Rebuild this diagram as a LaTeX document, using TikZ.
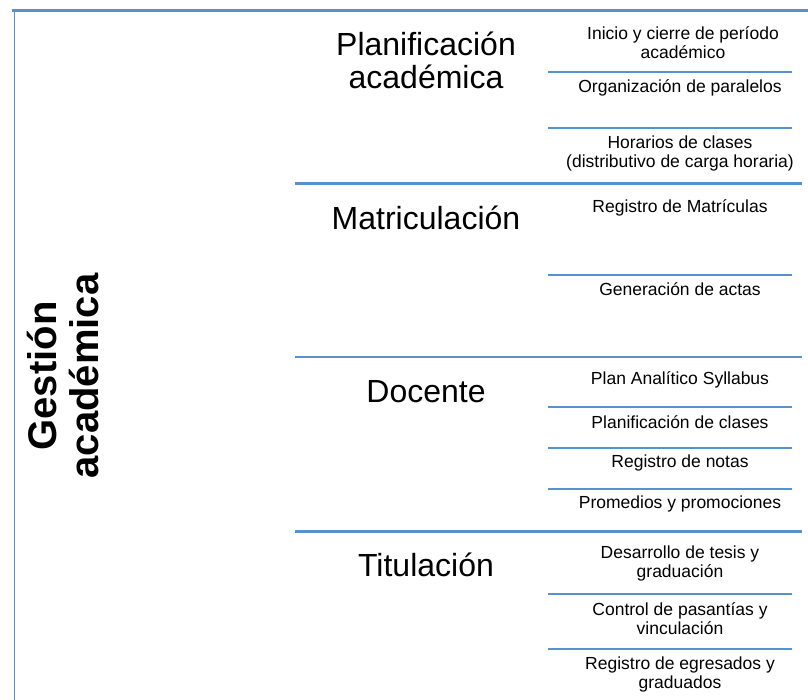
\documentclass[tikz,border=0pt]{standalone}
\usepackage{fontspec}
\setmainfont{Liberation Sans}
\definecolor{azulraya}{RGB}{88,146,206}
\tikzset{
  titulo/.style={align=center, inner sep=0pt, font=\fontsize{32}{33}\selectfont},
  tarea/.style={align=center, inner sep=0pt, font=\fontsize{17.5}{19}\selectfont},
  raya/.style={draw=azulraya, line width=2.3pt},
}
\begin{document}
\begin{tikzpicture}[x=1pt,y=-1pt]
\useasboundingbox (0,0) rectangle (808,700);
\path
	(63,376) node[rotate=90, align=center, inner sep=0pt, font=\bfseries\fontsize{40}{42}\selectfont] (gestion) {Gestión\\académica}
	(426,60.5) node[titulo] (planif) {Planificación\\académica}
	(426,218) node[titulo] (matric) {Matriculación}
	(426,391.7) node[titulo] (docente) {Docente}
	(426,565) node[titulo] (titul) {Titulación}
	(683,43) node[tarea] (inicio) {Inicio y cierre de período\\académico}
	(680,88) node[tarea] (paralelos) {Organización de paralelos}
	(680,153.5) node[tarea] (horarios) {Horarios de clases\\(distributivo de carga horaria)}
	(680,207.5) node[tarea] (registro) {Registro de Matrículas}
	(680,289.5) node[tarea] (actas) {Generación de actas}
	(680,380) node[tarea] (syllabus) {Plan Analítico Syllabus}
	(680,422) node[tarea] (clases) {Planificación de clases}
	(680,463) node[tarea] (notas) {Registro de notas}
	(680,504) node[tarea] (promedios) {Promedios y promociones}
	(680,563.5) node[tarea] (tesis) {Desarrollo de tesis y\\graduación}
	(680,619) node[tarea] (pasantias) {Control de pasantías y\\vinculación}
	(680,674) node[tarea] (egresados) {Registro de egresados y\\graduados};
% marco
\draw[azulraya, line width=2.8pt] (12,10.5) -- (808,10.5);
\draw[azulraya, line width=1.3pt] (14.5,11) -- (14.5,700);
% secciones
\foreach \y in {183.5,357,531.5}
	\draw[raya] (295,\y) -- (802,\y);
% tareas
\foreach \y in {72,128,275,407,448,489,594,649}
	\draw[raya] (548,\y) -- (792,\y);
\end{tikzpicture}
\end{document}
